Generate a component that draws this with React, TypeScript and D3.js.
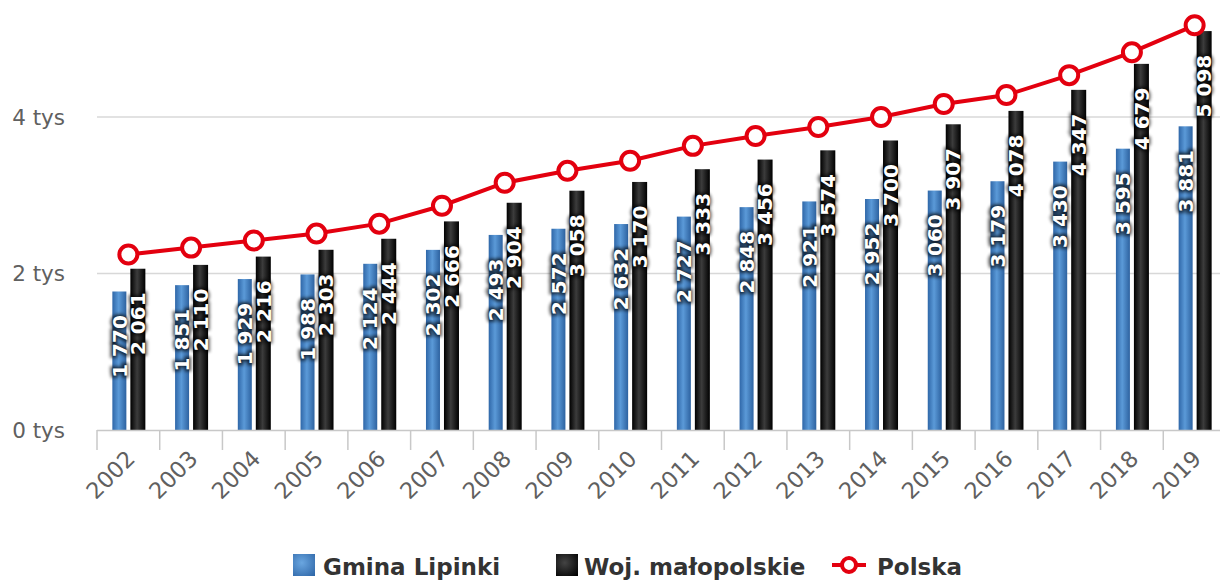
import React from "react";
import * as d3 from "d3";

const years = ["2002","2003","2004","2005","2006","2007","2008","2009","2010","2011","2012","2013","2014","2015","2016","2017","2018","2019"];
const gmina = [1770,1851,1929,1988,2124,2302,2493,2572,2632,2727,2848,2921,2952,3060,3179,3430,3595,3881];
const wojewodztwo = [2061,2110,2216,2303,2444,2666,2904,3058,3170,3333,3456,3574,3700,3907,4078,4347,4679,5098];
const polska = [2242,2331,2421,2510,2637,2866,3160,3312,3440,3631,3758,3873,4000,4166,4281,4535,4828,5172];
const yTicks = [0,2000,4000];
const seriesNames = ["Gmina Lipinki","Woj. małopolskie","Polska"];

const W = 1220, H = 583;
const fmt = (v: number) => d3.format(",")(v).replace(/,/g, " ");

export default function App() {
  const x = d3.scaleBand<string>().domain(years).range([97, 1226]);
  const y = d3.scaleLinear().domain([0, 4000]).range([430, 117]);
  const bw = x.bandwidth();
  const cx = (yr: string) => (x(yr) as number) + bw / 2;
  const line = d3.line<number>().x((_, i) => cx(years[i])).y(d => y(d));
  const labelFont = "'DejaVu Sans', Verdana, sans-serif";

  const dataLabel = (xc: number, top: number, v: number, key: string) => {
    const yc = top + 55;
    const t = `translate(${xc},${yc}) rotate(-90)`;
    return (
      <g key={key}>
        <text transform={t} textAnchor="middle" dy="0.36em" fontFamily={labelFont} fontWeight="bold" fontSize={20}
          fill="#000" stroke="#000" strokeOpacity={0.6} strokeWidth={5} filter="url(#blur)" opacity={0.85}>{fmt(v)}</text>
        <text transform={t} textAnchor="middle" dy="0.36em" fontFamily={labelFont} fontWeight="bold" fontSize={20}
          fill="#fff">{fmt(v)}</text>
      </g>
    );
  };

  return (
    <svg width={W} height={H} style={{ position: "absolute", left: 0, top: 0, background: "#fff" }}>
      <defs>
        <linearGradient id="gBlue" x1="0" x2="1" y1="0" y2="0">
          <stop offset="0" stopColor="#2f67a8" />
          <stop offset="0.45" stopColor="#5b9ad8" />
          <stop offset="1" stopColor="#2d62a0" />
        </linearGradient>
        <linearGradient id="gBlack" x1="0" x2="1" y1="0" y2="0">
          <stop offset="0" stopColor="#000" />
          <stop offset="0.45" stopColor="#3c3c3c" />
          <stop offset="1" stopColor="#000" />
        </linearGradient>
        <radialGradient id="gBlueL" cx="0.4" cy="0.4" r="0.8">
          <stop offset="0" stopColor="#6aa6e0" />
          <stop offset="1" stopColor="#2f67a8" />
        </radialGradient>
        <radialGradient id="gBlackL" cx="0.4" cy="0.4" r="0.8">
          <stop offset="0" stopColor="#444" />
          <stop offset="1" stopColor="#000" />
        </radialGradient>
        <filter id="blur" x="-20%" y="-20%" width="140%" height="140%">
          <feGaussianBlur stdDeviation="1.8" />
        </filter>
      </defs>

      {/* gridlines */}
      {yTicks.filter(t => t > 0).map(t => (
        <line key={t} x1={97} x2={W} y1={y(t)} y2={y(t)} stroke="#d8d8d8" strokeWidth={1.5} />
      ))}
      {/* y labels */}
      {yTicks.map(t => (
        <text key={"yl" + t} x={65} y={y(t)} dy="0.35em" textAnchor="end" fontFamily={labelFont} fontSize={21.5} fill="#606060">
          {`${t / 1000} tys`}
        </text>
      ))}

      {/* bars */}
      {years.map((yr, i) => {
        const c = cx(yr);
        return (
          <g key={"b" + yr}>
            <rect x={c - 16} y={y(gmina[i])} width={14} height={y(0) - y(gmina[i])} fill="url(#gBlue)" />
            <rect x={c + 2} y={y(wojewodztwo[i])} width={15} height={y(0) - y(wojewodztwo[i])} fill="url(#gBlack)" />
          </g>
        );
      })}

      {/* x axis */}
      <line x1={97} x2={W} y1={430.5} y2={430.5} stroke="#c8c8c8" strokeWidth={1.5} />
      {years.map(yr => (
        <line key={"t" + yr} x1={x(yr) as number} x2={x(yr) as number} y1={430} y2={450} stroke="#c8c8c8" strokeWidth={1.5} />
      ))}
      {years.map(yr => (
        <text key={"xl" + yr} transform={`translate(${cx(yr) + 8},${460}) rotate(-45)`} textAnchor="end"
          fontFamily={labelFont} fontSize={22.5} fill="#606060">{yr}</text>
      ))}

      {/* data labels */}
      {years.map((yr, i) => dataLabel(cx(yr) - 9, y(gmina[i]), gmina[i], "lg" + yr))}
      {years.map((yr, i) => dataLabel(cx(yr) + 9.5, y(wojewodztwo[i]), wojewodztwo[i], "lw" + yr))}

      {/* Polska line */}
      <path d={line(polska) as string} fill="none" stroke="#e3000f" strokeWidth={4} />
      {polska.map((v, i) => (
        <circle key={"p" + i} cx={cx(years[i])} cy={y(v)} r={9} fill="#fff" stroke="#e3000f" strokeWidth={4} />
      ))}

      {/* legend */}
      <g fontFamily={labelFont} fontWeight="bold" fontSize={23} fill="#333">
        <rect x={293} y={554} width={22} height={22} fill="url(#gBlueL)" />
        <text x={323} y={575}>{seriesNames[0]}</text>
        <rect x={556} y={554} width={22} height={22} fill="url(#gBlackL)" />
        <text x={584} y={575}>{seriesNames[1]}</text>
        <line x1={832} x2={866} y1={565} y2={565} stroke="#e3000f" strokeWidth={4} />
        <circle cx={849} cy={565} r={7} fill="#fff" stroke="#e3000f" strokeWidth={4} />
        <text x={877} y={575}>{seriesNames[2]}</text>
      </g>
    </svg>
  );
}
